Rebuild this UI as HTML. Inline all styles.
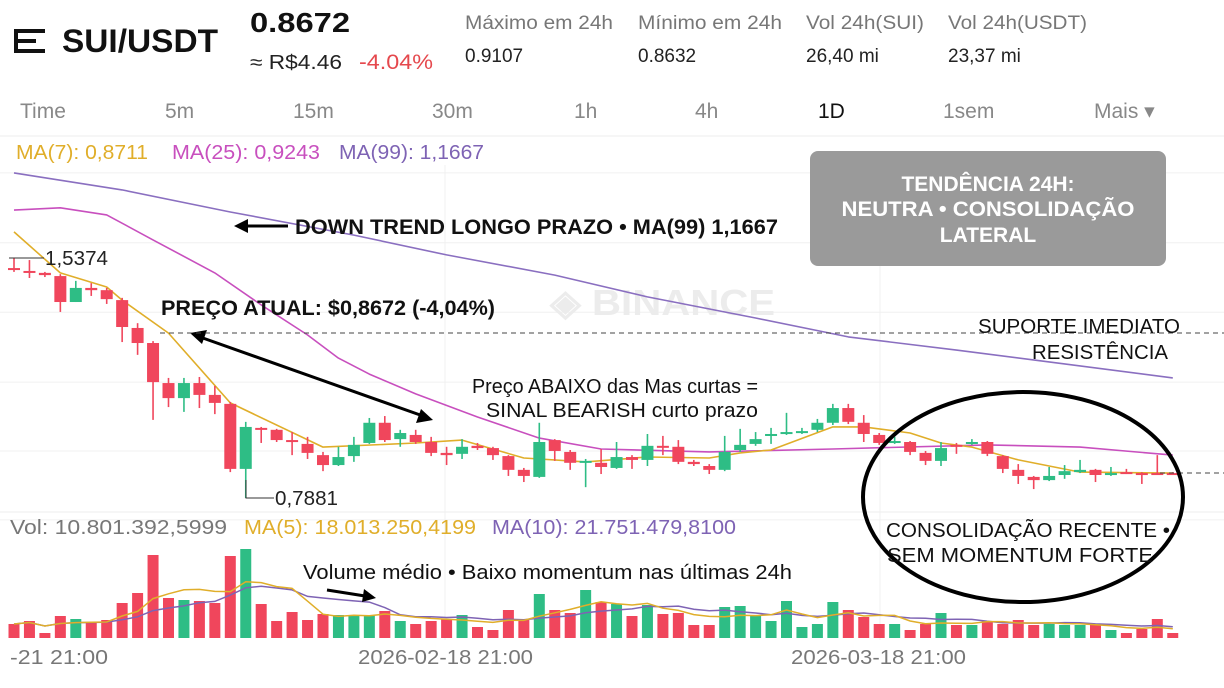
<!DOCTYPE html>
<html><head><meta charset="utf-8"><style>
body{margin:0;background:#fff;width:1224px;height:688px;overflow:hidden;font-family:"Liberation Sans",sans-serif}
svg{display:block}
</style></head><body>
<svg id="chart" width="1224" height="688" viewBox="0 0 1224 688" xmlns="http://www.w3.org/2000/svg" font-family="Liberation Sans, sans-serif">
<g>
 <g fill="#111"><rect x="14" y="29" width="31" height="4"/><rect x="14" y="39" width="22" height="4"/><rect x="14" y="49" width="31" height="4"/><rect x="14" y="29" width="4" height="24"/></g>
 <text x="62" y="52" font-size="32" font-weight="bold" fill="#111" textLength="156" lengthAdjust="spacingAndGlyphs">SUI/USDT</text>
 <text x="250" y="32" font-size="28" font-weight="bold" fill="#111" textLength="100" lengthAdjust="spacingAndGlyphs">0.8672</text>
 <text x="250" y="69" font-size="20" fill="#222" textLength="92" lengthAdjust="spacingAndGlyphs">≈ R$4.46</text>
 <text x="359" y="69" font-size="21" fill="#e5484d" textLength="74" lengthAdjust="spacingAndGlyphs">-4.04%</text>
 <g font-size="19" fill="#777"><text x="465" y="29" textLength="148" lengthAdjust="spacingAndGlyphs">Máximo em 24h</text><text x="638" y="29" textLength="144" lengthAdjust="spacingAndGlyphs">Mínimo em 24h</text><text x="806" y="29" textLength="118" lengthAdjust="spacingAndGlyphs">Vol 24h(SUI)</text><text x="948" y="29" textLength="139" lengthAdjust="spacingAndGlyphs">Vol 24h(USDT)</text></g>
 <g font-size="19" fill="#222"><text x="465" y="62">0.9107</text><text x="638" y="62">0.8632</text><text x="806" y="62">26,40 mi</text><text x="948" y="62">23,37 mi</text></g>
</g>
<g font-size="21" fill="#888">
 <text x="20" y="118">Time</text>
 <text x="165" y="118">5m</text>
 <text x="293" y="118">15m</text>
 <text x="432" y="118">30m</text>
 <text x="574" y="118">1h</text>
 <text x="695" y="118">4h</text>
 <text x="818" y="118" fill="#111">1D</text>
 <text x="943" y="118">1sem</text>
 <text x="1094" y="118">Mais ▾</text>
</g>
<line x1="0" y1="136" x2="1224" y2="136" stroke="#eee"/>
<g font-size="20">
 <text x="16" y="159" fill="#e0ae2a" textLength="132" lengthAdjust="spacingAndGlyphs">MA(7): 0,8711</text>
 <text x="172" y="159" fill="#c84fbe" textLength="148" lengthAdjust="spacingAndGlyphs">MA(25): 0,9243</text>
 <text x="339" y="159" fill="#7e63b4" textLength="145" lengthAdjust="spacingAndGlyphs">MA(99): 1,1667</text>
</g>
<g id="grid" stroke="#f0f0f0"></g>
<text x="550" y="315" font-size="36" font-weight="bold" fill="#ececec" textLength="225" lengthAdjust="spacingAndGlyphs">◈ BINANCE</text>
<g id="ma-lines"></g>
<g id="candles"></g>
<line x1="0" y1="512" x2="1224" y2="512" stroke="#eee"/>
<g font-size="20">
 <text x="10" y="534" fill="#777" textLength="217" lengthAdjust="spacingAndGlyphs">Vol: 10.801.392,5999</text>
 <text x="244" y="534" fill="#e0ae2a" textLength="232" lengthAdjust="spacingAndGlyphs">MA(5): 18.013.250,4199</text>
 <text x="492" y="534" fill="#7e63b4" textLength="244" lengthAdjust="spacingAndGlyphs">MA(10): 21.751.479,8100</text>
</g>
<g id="volume"></g>
<g id="vol-ma"></g>
<g font-size="20" fill="#777">
 <text x="10" y="664" textLength="98" lengthAdjust="spacingAndGlyphs">-21 21:00</text>
 <text x="358" y="664" textLength="175" lengthAdjust="spacingAndGlyphs">2026-02-18 21:00</text>
 <text x="791" y="664" textLength="175" lengthAdjust="spacingAndGlyphs">2026-03-18 21:00</text>
</g>
<g>
 <g><polyline points="9,258 44,258" stroke="#333" fill="none"/><text x="45" y="265" font-size="20" fill="#222" textLength="63" lengthAdjust="spacingAndGlyphs">1,5374</text></g>
 <g><polyline points="246,480 246,498 274,498" stroke="#333" fill="none"/><text x="275" y="505" font-size="20" fill="#222" textLength="63" lengthAdjust="spacingAndGlyphs">0,7881</text></g>
 <rect x="810" y="151" width="356" height="115" rx="8" fill="#9a9a9a"/>
 <g font-size="21" font-weight="bold" fill="#fff" text-anchor="middle"><text x="988" y="191">TENDÊNCIA 24H:</text><text x="988" y="216" textLength="293" lengthAdjust="spacingAndGlyphs">NEUTRA • CONSOLIDAÇÃO</text><text x="988" y="242">LATERAL</text></g>
 <g><line x1="288" y1="226" x2="244" y2="226" stroke="#000" stroke-width="3"/><polygon points="234,226 248,219 248,233" fill="#000"/></g>
 <text x="295" y="234" font-size="21" font-weight="bold" fill="#111" textLength="483" lengthAdjust="spacingAndGlyphs">DOWN TREND LONGO PRAZO • MA(99) 1,1667</text>
 <text x="161" y="315" font-size="21" font-weight="bold" fill="#111" textLength="334" lengthAdjust="spacingAndGlyphs">PREÇO ATUAL: $0,8672 (-4,04%)</text>
 <g><line x1="200" y1="337" x2="423" y2="416" stroke="#000" stroke-width="3"/><polygon points="190,333 207,330 202,344" fill="#000"/><polygon points="433,420 416,423 421,409" fill="#000"/></g>
 <line x1="160" y1="333" x2="1224" y2="333" stroke="#444" stroke-dasharray="5,4"/>
 <text x="978" y="333" font-size="20" fill="#111" textLength="202" lengthAdjust="spacingAndGlyphs">SUPORTE IMEDIATO</text>
 <text x="1032" y="359" font-size="20" fill="#111" textLength="136" lengthAdjust="spacingAndGlyphs">RESISTÊNCIA</text>
 <g font-size="20" fill="#111" text-anchor="middle"><text x="615" y="393" textLength="286" lengthAdjust="spacingAndGlyphs">Preço ABAIXO das Mas curtas =</text><text x="622" y="417" textLength="272" lengthAdjust="spacingAndGlyphs">SINAL BEARISH curto prazo</text></g>
 <line x1="1160" y1="473" x2="1224" y2="473" stroke="#444" stroke-dasharray="5,4"/>
 <ellipse cx="1023" cy="497" rx="160" ry="105" fill="none" stroke="#000" stroke-width="4"/>
 <g font-size="20" fill="#111" text-anchor="middle"><text x="1028" y="537" textLength="284" lengthAdjust="spacingAndGlyphs">CONSOLIDAÇÃO RECENTE •</text><text x="1020" y="562" textLength="266" lengthAdjust="spacingAndGlyphs">SEM MOMENTUM FORTE</text></g>
 <text x="303" y="579" font-size="20" fill="#111" textLength="489" lengthAdjust="spacingAndGlyphs">Volume médio • Baixo momentum nas últimas 24h</text>
 <g><line x1="327" y1="590" x2="365" y2="596" stroke="#000" stroke-width="3"/><polygon points="376,598 362,602 364,589" fill="#000"/></g>
</g>
</svg>
<script>
const opens=[1.506,1.497,1.491,1.481,1.400,1.444,1.437,1.406,1.319,1.272,1.147,1.100,1.147,1.110,1.082,0.879,1.007,1.001,0.969,0.957,0.922,0.891,0.919,0.960,1.023,0.972,0.985,0.963,0.929,0.926,0.951,0.944,0.919,0.876,0.854,0.969,0.932,0.898,0.898,0.882,0.916,0.907,0.951,0.948,0.901,0.888,0.876,0.938,0.957,0.982,0.988,0.991,1.001,1.023,1.069,1.023,0.985,0.960,0.963,0.929,0.904,0.954,0.957,0.963,0.919,0.876,0.854,0.844,0.860,0.869,0.876,0.860,0.869,0.866,0.866,0.866];
const highs=[1.537,1.531,1.494,1.487,1.466,1.459,1.444,1.413,1.334,1.278,1.163,1.163,1.166,1.138,1.088,1.026,1.010,1.004,0.994,0.979,0.932,0.948,0.979,1.038,1.044,1.001,1.001,0.979,0.948,0.972,0.960,0.948,0.922,0.882,1.023,0.972,0.938,0.910,0.941,0.963,0.922,0.988,0.982,0.969,0.907,0.894,0.982,1.004,0.994,1.007,1.054,1.007,1.035,1.082,1.082,1.047,0.991,0.979,0.966,0.935,0.963,0.960,0.972,0.966,0.922,0.894,0.857,0.885,0.891,0.907,0.879,0.885,0.879,0.869,0.922,0.869];
const lows=[1.494,1.475,1.478,1.369,1.400,1.419,1.394,1.275,1.235,1.032,1.072,1.057,1.069,1.050,0.869,0.788,0.960,0.963,0.922,0.910,0.872,0.888,0.901,0.957,0.963,0.948,0.957,0.919,0.891,0.910,0.938,0.907,0.857,0.838,0.851,0.904,0.876,0.822,0.863,0.879,0.879,0.888,0.922,0.894,0.888,0.863,0.872,0.932,0.951,0.957,0.985,0.988,0.994,1.016,1.019,0.963,0.954,0.957,0.922,0.891,0.888,0.926,0.954,0.919,0.866,0.832,0.816,0.841,0.848,0.866,0.838,0.857,0.863,0.832,0.860,0.860];
const closes=[1.500,1.491,1.484,1.400,1.444,1.437,1.409,1.322,1.272,1.150,1.100,1.147,1.110,1.085,0.879,1.010,1.001,0.969,0.963,0.929,0.891,0.916,0.954,1.023,0.969,0.991,0.963,0.929,0.922,0.948,0.944,0.922,0.876,0.857,0.963,0.935,0.898,0.904,0.885,0.916,0.907,0.951,0.948,0.901,0.894,0.876,0.932,0.954,0.972,0.988,0.994,0.997,1.023,1.069,1.026,0.988,0.960,0.966,0.932,0.904,0.944,0.948,0.963,0.926,0.879,0.857,0.844,0.857,0.872,0.876,0.860,0.866,0.866,0.863,0.863,0.863];
const ma7Idx=[0,3,6,7,10,14,20,26,29,33,37,41,45,47,49,53,55,58,60,62,65,69,75];
const ma7Val=[1.619,1.491,1.447,1.406,1.303,1.085,0.947,0.960,0.969,0.913,0.901,0.916,0.913,0.929,0.938,1.010,1.010,0.991,0.960,0.947,0.907,0.869,0.866];
const ma25Idx=[0,3,6,9,13,16,19,21,23,26,30,34,38,45,53,63,69,75];
const ma25Val=[1.687,1.694,1.672,1.594,1.491,1.391,1.297,1.225,1.175,1.113,1.041,0.975,0.941,0.932,0.941,0.954,0.947,0.922];
const ma99Idx=[0,7,14,22,28,35,41,48,54,61,67,75];
const ma99Val=[1.803,1.750,1.681,1.609,1.547,1.484,1.416,1.350,1.291,1.250,1.213,1.163];
const volumes=[28,34,10,44,38,32,36,70,90,166,80,76,74,70,164,178,68,34,52,36,48,46,46,46,54,34,28,34,38,46,22,16,56,36,88,56,50,96,72,
 68,44,66,48,50,26,26,62,64,46,34,74,22,28,72,56,42,28,28,16,28,50,26,26,34,28,36,26,28,26,26,26,16,10,18,38,10];
const volUp=[0,0,0,0,1,0,0,0,0,0,0,1,0,0,0,1,0,0,0,0,0,1,1,1,0,1,0,0,0,1,0,0,0,0,1,0,0,1,0,
 1,0,1,0,0,0,0,1,1,1,1,1,1,1,1,0,0,0,1,0,0,1,0,1,0,0,0,0,1,1,1,0,1,0,0,0,0];
const gridPrices=[1.803,1.585,1.368,1.150,0.935,0.720];

const NS='http://www.w3.org/2000/svg';
const RED='#f0465c',GREEN='#2ebd85';
function xAt(i){return 14+i*15.45;}
function yP(p){return (2.3429-p)/0.003122;}
function yV(v){return 638-v*0.5;}
function mk(tag,attrs,parent){const e=document.createElementNS(NS,tag);for(const k in attrs)e.setAttribute(k,attrs[k]);parent.appendChild(e);return e;}

const grid=document.getElementById('grid');
gridPrices.forEach(p=>{const l=mk('line',{x1:0,x2:1224,y1:yP(p),y2:yP(p)},grid);

});
[445,880].forEach(x=>{const l=mk('line',{x1:x,x2:x,y1:165,y2:640},grid);

});

const mg=document.getElementById('ma-lines');
function maLine(idx,val,color,name){
 const pts=idx.map((i,k)=>xAt(i).toFixed(1)+','+yP(val[k]).toFixed(1)).join(' ');
 const l=mk('polyline',{points:pts,fill:'none',stroke:color,'stroke-width':1.6,'stroke-linejoin':'round'},mg);
 
 
}
maLine(ma99Idx,ma99Val,'#8a6fc0','ma99-line');
maLine(ma25Idx,ma25Val,'#c84fbe','ma25-line');

const cg=document.getElementById('candles');
opens.forEach((o,i)=>{
 const c=closes[i],up=c>=o,col=up?GREEN:RED,x=xAt(i);
 const g=mk('g',{},cg);
 
 
 mk('line',{x1:x,x2:x,y1:yP(highs[i]),y2:yP(lows[i]),stroke:col,'stroke-width':1.6},g);
 const top=yP(Math.max(o,c)),bot=yP(Math.min(o,c));
 mk('rect',{x:x-6,y:top,width:12,height:Math.max(2,bot-top),fill:col},g);
});
maLine(ma7Idx,ma7Val,'#e0ae2a','ma7-line');

const vg=document.getElementById('volume');
volumes.forEach((v,i)=>{
 const r=mk('rect',{x:xAt(i)-5.5,y:yV(v),width:11,height:638-yV(v),fill:volUp[i]?GREEN:RED},vg);
 
 
});
const vmg=document.getElementById('vol-ma');
function volMA(n,color,name){
 const pts=volumes.map((v,i)=>{const s=volumes.slice(Math.max(0,i-n+1),i+1);const a=s.reduce((p,q)=>p+q,0)/s.length;return xAt(i).toFixed(1)+','+yV(a).toFixed(1);}).join(' ');
 const l=mk('polyline',{points:pts,fill:'none',stroke:color,'stroke-width':1.5},vmg);
 
 
}
volMA(10,'#7e63b4','vol-ma10-line');
volMA(5,'#e0ae2a','vol-ma5-line');
</script>
</body></html>
